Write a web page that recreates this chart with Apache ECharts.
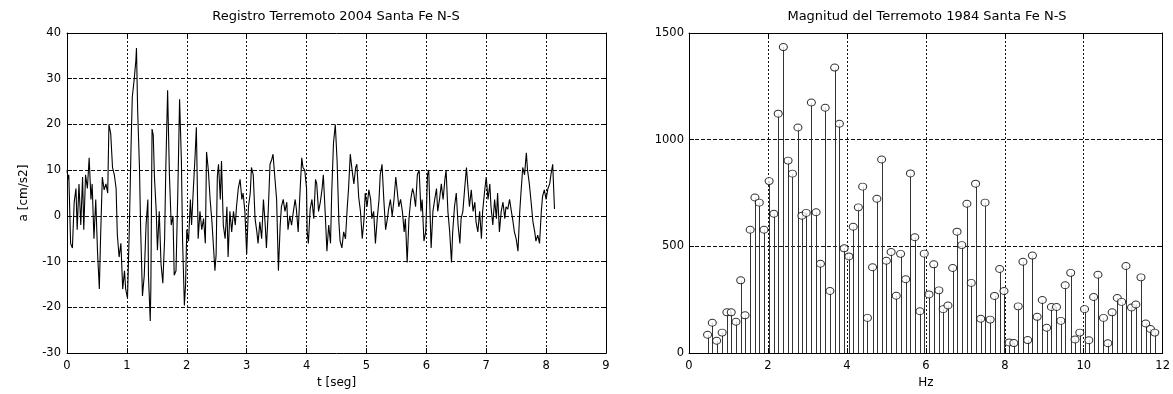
<!DOCTYPE html>
<html><head><meta charset="utf-8">
<script src="https://cdn.jsdelivr.net/npm/echarts@6/dist/echarts.min.js"></script>
<style>html,body{margin:0;padding:0;background:#fff}#c{width:1173px;height:394px}</style>
</head><body><div id="c"></div>
<script>
// ---- Left panel: acceleration record ----
const timeSec = [
0.00,0.02,0.03,0.06,0.09,0.12,0.15,0.17,0.20,0.23,0.26,0.28,0.31,0.34,0.37,0.40,0.42,0.45,0.48,0.51,
0.54,0.56,0.59,0.62,0.65,0.68,0.70,0.73,0.76,0.79,0.82,0.84,0.87,0.90,0.93,0.96,0.98,1.01,1.04,1.07,
1.09,1.12,1.15,1.16,1.18,1.21,1.23,1.26,1.29,1.32,1.35,1.36,1.39,1.40,1.42,1.44,1.46,1.49,1.51,1.54,
1.57,1.60,1.63,1.65,1.68,1.71,1.74,1.77,1.79,1.82,1.85,1.88,1.91,1.93,1.96,1.98,2.00,
2.03,2.06,2.08,2.11,2.14,2.16,2.18,2.19,2.22,2.25,2.28,2.31,2.33,2.36,2.39,2.42,2.44,2.47,2.49,2.51,
2.53,2.56,2.58,2.61,2.64,2.67,2.69,2.72,2.75,2.78,2.81,2.83,2.86,2.89,2.92,2.94,2.97,3.00,3.03,3.06,
3.08,3.11,3.14,3.17,3.19,3.22,3.25,3.28,3.31,3.33,3.36,3.39,3.42,3.44,3.47,3.50,3.53,3.56,3.58,3.61,
3.64,3.67,3.69,3.72,3.75,3.78,3.81,3.83,3.86,3.89,3.92,3.94,3.97,4.00,
4.01,4.03,4.06,4.09,4.12,4.15,4.17,4.20,4.23,4.26,4.28,4.31,4.34,4.37,4.40,4.42,4.45,4.48,4.51,4.54,
4.56,4.59,4.62,4.65,4.68,4.70,4.73,4.76,4.79,4.82,4.84,4.87,4.90,4.93,4.96,4.98,5.01,5.04,5.07,5.09,
5.12,5.15,5.18,5.21,5.23,5.26,5.29,5.32,5.35,5.37,5.40,5.43,5.46,5.49,5.51,5.54,5.57,5.60,5.63,5.65,
5.68,5.71,5.74,5.77,5.79,5.82,5.85,5.88,5.91,5.93,5.96,5.99,6.02,6.04,
6.08,6.11,6.14,6.17,6.19,6.22,6.25,6.28,6.31,6.33,6.36,6.39,6.42,6.44,6.47,6.50,6.53,6.56,6.58,6.61,
6.64,6.67,6.69,6.72,6.75,6.78,6.81,6.83,6.86,6.89,6.92,6.94,6.97,7.00,7.03,7.06,7.08,7.11,7.14,7.17,
7.19,7.22,7.25,7.28,7.31,7.33,7.36,7.39,7.42,7.44,7.47,7.50,7.53,7.56,7.58,7.61,7.64,7.67,7.69,7.72,
7.75,7.78,7.81,7.83,7.86,7.89,7.92,7.94,7.97,8.00,8.03,8.06,8.08,8.11,8.14
];
const accel = [
10,8,9,-6,-7,3,6,-3,7,-2,8.5,-3,9,6,12.7,3.6,7,-5,3.6,-8,
-16,-5,8.5,5.7,7,5,20,18,10.6,9,6,-4,-9,-6,-16,-12,-16,-18,-3,15.5,
26,29.6,34,36.7,23,10.6,-3,-17.5,-13,-2,3.6,-13,-23,-16,19,17.7,8.5,1,-7.5,1,
-10.5,-14.7,-5,10.6,27.5,9,-2,0,-13,-12,5,25.5,12,-5.5,-19.6,-15,-3,
-5.5,3.6,-2,6,13.5,19.4,3.6,-5,1,-3,-0.6,-6,14,10,3.6,-1.3,-5.5,-12,-8.4,8.5,
11.3,3.6,12,-2,-5,2,-9,1,-3.5,1,-2,2,6,8,3.6,5,1,-8.4,2,5,
10.6,9,-0.6,-3.5,-6,-1.3,-5,3.6,-2,-7,1,11.3,12.4,13.5,8.5,3.6,-12,-2,2,3.6,
1,3,-3,0,-2,1,3.6,1.5,-3.5,5,12.7,10.6,10,6,
-3.5,-6,1.5,3.6,-0.6,8,7,1,3,6,9,1,-7.7,-2,-6,5,16,20,12,-1.3,
-5.5,-7,-3.5,-5,2,5.7,13.5,10,7,10.6,11.3,4.2,1,-5,-0.6,5,2,5.7,3.6,-0.6,
1,-6,-0.6,3.6,9,11.3,3.6,-3,-0.6,1.5,3.6,0,3.6,8.5,6,2,3.6,1,-3.5,-0.6,
-10.2,-0.6,3.6,6,5,2,9,10,1,3.6,-5.5,-3.5,9,10,
-7,1,3.6,6,1,3.6,7,3.6,8,10,1,-3.5,-10.2,-3.5,2,5,-2,-6,-0.6,1,
6,10.6,7,2,5.7,1,3,-1.3,-3.5,1,-5,1,5,8.5,3.6,7,2,-2,3.6,-0.6,
5,-3.5,1,3,-0.6,2,1.5,3.6,1,-0.6,-3.5,-5,-7.7,1,5,10.6,9,13.8,10,7,
3,-1.3,-3.5,-5.5,-4.2,-6,1,4.2,5.7,3.6,6,7,9,11.3,1.5
];
const tAxis = { min: 0, max: 9, step: 1 };
const aAxis = { min: -30, max: 40, step: 10 };

// ---- Right panel: Fourier magnitude (stem) ----
const freqHz = [
0.47,0.59,0.70,0.84,0.96,1.07,1.19,1.31,1.42,1.55,
1.67,1.78,1.90,2.03,2.15,2.26,2.39,2.51,2.62,2.76,
2.86,2.97,3.10,3.22,3.33,3.45,3.57,3.69,3.81,3.93,
4.05,4.16,4.29,4.40,4.52,4.65,4.76,4.88,5.00,5.12,
5.25,5.36,5.49,5.61,5.72,5.85,5.96,6.08,6.20,6.33,
6.44,6.56,6.68,6.79,6.91,7.04,7.15,7.26,7.39,7.50,
7.63,7.74,7.87,7.98,8.11,8.23,8.34,8.46,8.58,8.70,
8.82,8.95,9.06,9.18,9.31,9.42,9.53,9.67,9.78,9.90,
10.02,10.13,10.25,10.36,10.50,10.61,10.72,10.85,10.96,11.07,
11.21,11.32,11.45,11.57,11.69,11.80
];
const magnitude = [
86,142,58,96,191,191,147,341,177,578,
729,705,578,806,653,1122,1434,902,841,1057,
644,657,1174,660,419,1150,291,1338,1075,491,
453,592,683,780,165,402,723,907,433,474,
269,465,346,842,543,196,466,275,416,294,
206,223,399,569,506,700,329,794,161,705,
157,268,394,291,50,47,219,428,61,457,
170,249,119,216,216,151,318,376,64,96,
206,60,263,367,165,46,191,258,240,408,
214,228,355,139,113,96
];
const fAxis = { min: 0, max: 12, step: 2 };
const mAxis = { min: 0, max: 1500, step: 500 };

const titles = ['Registro Terremoto 2004 Santa Fe N-S', 'Magnitud del Terremoto 1984 Santa Fe N-S'];
const axisNames = { t: 't [seg]', a: 'a [cm/s2]', f: 'Hz' };

const FONT = 'DejaVu Sans';
const accelData = timeSec.map((t, i) => [t, accel[i]]);
const stemData = freqHz.map((f, i) => [f, magnitude[i]]);
const plain = v => String(v);

function mainX(grid, ax, name) {
  return { type: 'value', gridIndex: grid, min: ax.min, max: ax.max, interval: ax.step, position: 'bottom',
    name: name, nameLocation: 'middle', nameGap: 20,
    nameTextStyle: { fontFamily: FONT, fontSize: 12, color: '#000' },
    axisLine: { show: true, onZero: false, lineStyle: { color: '#000', width: 1 } },
    axisTick: { show: true, inside: true, length: 5, lineStyle: { color: '#000' } },
    axisLabel: { show: true, margin: 7, fontFamily: FONT, fontSize: 11.5, color: '#000', formatter: plain },
    splitLine: { show: true, lineStyle: { color: '#111', width: 1, type: [2, 2] } } };
}
function mirrorX(grid, ax) {
  return { type: 'value', gridIndex: grid, min: ax.min, max: ax.max, interval: ax.step, position: 'top',
    axisLine: { show: true, onZero: false, lineStyle: { color: '#000', width: 1 } },
    axisTick: { show: true, inside: true, length: 5, lineStyle: { color: '#000' } },
    axisLabel: { show: false }, splitLine: { show: false } };
}
function mainY(grid, ax, name, margin, gap) {
  return { type: 'value', gridIndex: grid, min: ax.min, max: ax.max, interval: ax.step, position: 'left',
    name: name || '', nameLocation: 'middle', nameGap: gap || 0,
    nameTextStyle: { fontFamily: FONT, fontSize: 12, color: '#000' },
    axisLine: { show: true, onZero: false, lineStyle: { color: '#000', width: 1 } },
    axisTick: { show: true, inside: true, length: 5, lineStyle: { color: '#000' } },
    axisLabel: { show: true, margin: margin, fontFamily: FONT, fontSize: 11.5, color: '#000', formatter: plain },
    splitLine: { show: true, lineStyle: { color: '#111', width: 1, type: [4, 2] } } };
}
function mirrorY(grid, ax) {
  return { type: 'value', gridIndex: grid, min: ax.min, max: ax.max, interval: ax.step, position: 'right',
    axisLine: { show: true, onZero: false, lineStyle: { color: '#000', width: 1 } },
    axisTick: { show: true, inside: true, length: 5, lineStyle: { color: '#000' } },
    axisLabel: { show: false }, splitLine: { show: false } };
}

const chart = echarts.init(document.getElementById('c'), null, { renderer: 'canvas' });
chart.setOption({
  backgroundColor: '#fff',
  animation: false,
  title: [
    { text: titles[0], left: 336, top: 10, padding: 0, textAlign: 'center',
      textStyle: { fontFamily: FONT, fontSize: 13, fontWeight: 'normal', color: '#000' } },
    { text: titles[1], left: 927, top: 10, padding: 0, textAlign: 'center',
      textStyle: { fontFamily: FONT, fontSize: 13, fontWeight: 'normal', color: '#000' } }
  ],
  grid: [
    { left: 67, right: 567, top: 33, bottom: 32, show: false },
    { left: 689, right: 7, top: 33, bottom: 33, show: false }
  ],
  xAxis: [ mainX(0, tAxis, axisNames.t), mirrorX(0, tAxis), mainX(1, fAxis, axisNames.f), mirrorX(1, fAxis) ],
  yAxis: [ mainY(0, aAxis, axisNames.a, 6, 37), mirrorY(0, aAxis), mainY(1, mAxis, '', 5, 0), mirrorY(1, mAxis) ],
  series: [
    { type: 'line', xAxisIndex: 0, yAxisIndex: 0, data: accelData, showSymbol: false, symbol: 'none',
      lineStyle: { color: '#000', width: 1.1 }, z: 3 },
    { type: 'custom', xAxisIndex: 2, yAxisIndex: 2, data: stemData, encode: { x: 0, y: 1 }, z: 3,
      renderItem: function (params, api) {
        const x = api.value(0), v = api.value(1);
        const p0 = api.coord([x, 0]);
        const p1 = api.coord([x, v]);
        const px = Math.round(p0[0]) + 0.5;
        return { type: 'line', shape: { x1: px, y1: p0[1], x2: px, y2: p1[1] },
          style: { stroke: '#333', lineWidth: 1 } };
      } },
    { type: 'scatter', xAxisIndex: 2, yAxisIndex: 2, data: stemData, symbol: 'circle', symbolSize: [8, 7],
      itemStyle: { color: '#fff', borderColor: '#000', borderWidth: 1 }, z: 4 }
  ]
});
</script>
</body></html>
